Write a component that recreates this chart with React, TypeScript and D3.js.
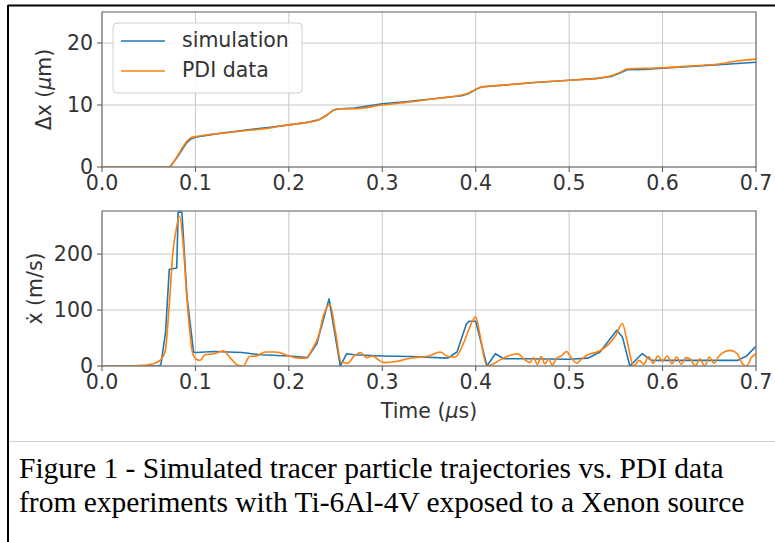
import React from "react";
import * as d3 from "d3";

const xTicks = [0, 0.1, 0.2, 0.3, 0.4, 0.5, 0.6, 0.7];
const dispTicks = [0, 10, 20];
const velTicks = [0, 100, 200];
const seriesNames = ["simulation", "PDI data"];
const seriesColors = ["#1f77b4", "#ff7f0e"];

const simDisplacement: [number, number][] = [
  [0, 0], [0.07, 0], [0.073, 0.1], [0.08, 1.5], [0.09, 3.8], [0.095, 4.5], [0.1, 4.8],
  [0.12, 5.3], [0.15, 5.9], [0.18, 6.4], [0.2, 6.8], [0.22, 7.2], [0.232, 7.6], [0.24, 8.3],
  [0.248, 9.2], [0.255, 9.4], [0.27, 9.5], [0.3, 10.2], [0.33, 10.6], [0.36, 11.1],
  [0.385, 11.5], [0.392, 11.8], [0.4, 12.5], [0.406, 12.9], [0.43, 13.2], [0.46, 13.6],
  [0.5, 14.0], [0.53, 14.3], [0.545, 14.6], [0.555, 15.2], [0.562, 15.7], [0.58, 15.75],
  [0.6, 15.95], [0.63, 16.2], [0.66, 16.5], [0.7, 16.9],
];

const pdiDisplacement: [number, number][] = [
  [0, 0], [0.07, 0], [0.073, 0.1], [0.08, 1.6], [0.09, 4.0], [0.095, 4.7], [0.1, 4.9],
  [0.12, 5.3], [0.15, 5.8], [0.18, 6.3], [0.2, 6.8], [0.22, 7.2], [0.232, 7.6], [0.24, 8.3],
  [0.248, 9.2], [0.255, 9.4], [0.27, 9.4], [0.3, 10.0], [0.33, 10.5], [0.36, 11.1],
  [0.385, 11.6], [0.392, 11.9], [0.4, 12.5], [0.406, 12.9], [0.43, 13.2], [0.46, 13.6],
  [0.5, 14.0], [0.53, 14.3], [0.545, 14.7], [0.555, 15.3], [0.562, 15.8], [0.58, 15.9],
  [0.6, 16.0], [0.63, 16.3], [0.66, 16.6], [0.68, 17.1], [0.7, 17.4],
];

const simVelocity: [number, number][] = [
  [0, 0], [0.06, 0], [0.063, 2], [0.068, 60], [0.072, 173], [0.08, 175], [0.0815, 275],
  [0.0855, 275], [0.091, 123], [0.098, 25], [0.1, 24], [0.12, 26], [0.15, 24], [0.17, 20],
  [0.2, 18], [0.22, 15], [0.23, 40], [0.243, 120], [0.255, 0], [0.262, 22], [0.27, 20],
  [0.3, 18], [0.33, 17], [0.37, 14], [0.38, 25], [0.39, 75], [0.393, 80], [0.4, 80],
  [0.412, 0], [0.421, 22], [0.43, 13], [0.45, 13], [0.5, 12], [0.52, 14], [0.533, 25],
  [0.551, 64], [0.557, 52], [0.565, 0], [0.578, 22], [0.588, 10], [0.6, 10], [0.65, 10],
  [0.68, 10], [0.69, 18], [0.7, 35],
];

const pdiVelocity: [number, number][] = [
  [0, 0], [0.04, 1], [0.055, 4], [0.062, 10], [0.0675, 25], [0.072, 110], [0.076, 205],
  [0.079, 240], [0.083, 268], [0.087, 215], [0.091, 118], [0.097, 23], [0.101, 12],
  [0.105, 10], [0.11, 20], [0.12, 22], [0.13, 27], [0.137, 15], [0.145, 2], [0.151, 0],
  [0.158, 17], [0.165, 18], [0.175, 25], [0.185, 25], [0.19, 24], [0.2, 18], [0.21, 14],
  [0.218, 14], [0.225, 30], [0.232, 55], [0.237, 90], [0.244, 110], [0.25, 60], [0.256, 7],
  [0.263, 5], [0.27, 18], [0.277, 24], [0.283, 15], [0.29, 18], [0.295, 12], [0.302, 6],
  [0.315, 8], [0.33, 14], [0.35, 18], [0.362, 25], [0.37, 17], [0.378, 16], [0.388, 45],
  [0.395, 75], [0.4, 88], [0.404, 60], [0.412, 0], [0.418, 3], [0.425, 10], [0.435, 18],
  [0.445, 22], [0.452, 12], [0.458, 6], [0.462, 15], [0.466, 3], [0.47, 17], [0.474, 4],
  [0.478, 12], [0.482, 2], [0.487, 15], [0.492, 18], [0.497, 26], [0.503, 13], [0.508, 5],
  [0.513, 12], [0.52, 20], [0.53, 25], [0.54, 35], [0.55, 55], [0.557, 76], [0.562, 45],
  [0.569, 0], [0.575, 10], [0.58, 3], [0.585, 17], [0.59, 5], [0.595, 18], [0.6, 8],
  [0.605, 18], [0.61, 4], [0.615, 16], [0.62, 3], [0.625, 15], [0.63, 12], [0.635, 0],
  [0.64, 13], [0.645, 0], [0.65, 16], [0.655, 5], [0.66, 17], [0.667, 26], [0.673, 28],
  [0.68, 22], [0.685, 5], [0.69, 0], [0.695, 15], [0.7, 22],
];

const W = 775;
const H = 542;
const LEFT = 102;
const RIGHT = 756;

const fmtX = d3.format(".1f");

type PanelProps = {
  top: number;
  bottom: number;
  yMax: number;
  yTicks: number[];
  series: [number, number][][];
  yLabel: React.ReactNode;
  yLabelX: number;
  legend?: boolean;
  clipId: string;
};

const tickFont = { fontFamily: "DejaVu Sans", fontSize: 20.5, fill: "#333" };

function Panel({ top, bottom, yMax, yTicks, series, yLabel, yLabelX, legend, clipId }: PanelProps) {
  const x = d3.scaleLinear().domain([0, 0.7]).range([LEFT, RIGHT]);
  const y = d3.scaleLinear().domain([0, yMax]).range([bottom, top]);
  const lines = [
    d3.line<[number, number]>().x((d) => x(d[0])).y((d) => y(d[1])),
    d3.line<[number, number]>().x((d) => x(d[0])).y((d) => y(d[1])).curve(d3.curveMonotoneX),
  ];
  return (
    <g>
      <defs>
        <clipPath id={clipId}>
          <rect x={LEFT} y={top} width={RIGHT - LEFT} height={bottom - top} />
        </clipPath>
      </defs>
      {xTicks.map((t) => (
        <line key={"gx" + t} x1={x(t)} x2={x(t)} y1={top} y2={bottom} stroke="#c8c8c8" strokeWidth={1} />
      ))}
      {yTicks.map((t) => (
        <line key={"gy" + t} x1={LEFT} x2={RIGHT} y1={y(t)} y2={y(t)} stroke="#c8c8c8" strokeWidth={1} />
      ))}
      <g clipPath={`url(#${clipId})`}>
        {series.map((s, i) => (
          <path key={i} d={lines[i](s) || ""} fill="none" stroke={seriesColors[i]} strokeWidth={1.6} strokeLinejoin="round" />
        ))}
      </g>
      <rect x={LEFT} y={top} width={RIGHT - LEFT} height={bottom - top} fill="none" stroke="#777" strokeWidth={1.2} />
      {xTicks.map((t) => (
        <g key={"tx" + t}>
          <line x1={x(t)} x2={x(t)} y1={bottom} y2={bottom + 5} stroke="#555" strokeWidth={1} />
          <text x={x(t)} y={bottom + 17} textAnchor="middle" dominantBaseline="middle" {...tickFont}>
            {fmtX(t)}
          </text>
        </g>
      ))}
      {yTicks.map((t) => (
        <g key={"ty" + t}>
          <line x1={LEFT - 5} x2={LEFT} y1={y(t)} y2={y(t)} stroke="#555" strokeWidth={1} />
          <text x={LEFT - 9} y={y(t) + 1} textAnchor="end" dominantBaseline="middle" {...tickFont}>
            {t}
          </text>
        </g>
      ))}
      <text
        transform={`translate(${yLabelX},${(top + bottom) / 2}) rotate(-90)`}
        textAnchor="middle"
        dominantBaseline="middle"
        {...tickFont}
      >
        {yLabel}
      </text>
      {legend && (
        <g>
          <rect x={113} y={23} width={189} height={70} rx={4} fill="white" fillOpacity={0.85} stroke="#d0d0d0" strokeWidth={1} />
          {seriesNames.map((n, i) => (
            <g key={n}>
              <line x1={121} x2={165} y1={41 + i * 30} y2={41 + i * 30} stroke={seriesColors[i]} strokeWidth={1.6} />
              <text x={182} y={41 + i * 30} dominantBaseline="middle" {...tickFont}>
                {n}
              </text>
            </g>
          ))}
        </g>
      )}
    </g>
  );
}

export default function App() {
  return (
    <svg
      width={W}
      height={H}
      viewBox={`0 0 ${W} ${H}`}
      style={{ position: "absolute", left: 0, top: 0, background: "white" }}
    >
      <rect x={0} y={0} width={W} height={H} fill="white" />
      <line x1={8} x2={775} y1={5.5} y2={5.5} stroke="#000" strokeWidth={2} />
      <line x1={8} x2={8} y1={5} y2={542} stroke="#000" strokeWidth={2} />
      <Panel
        top={12}
        bottom={167}
        yMax={25}
        yTicks={dispTicks}
        series={[simDisplacement, pdiDisplacement]}
        yLabel={
          <>
            Δx (<tspan fontStyle="italic">μ</tspan>m)
          </>
        }
        yLabelX={45}
        legend
        clipId="clipTop"
      />
      <Panel
        top={211}
        bottom={366}
        yMax={277}
        yTicks={velTicks}
        series={[simVelocity, pdiVelocity]}
        yLabel={"ẋ (m/s)"}
        yLabelX={36}
        clipId="clipBottom"
      />
      <text x={429} y={412} textAnchor="middle" dominantBaseline="middle" {...tickFont}>
        Time (<tspan fontStyle="italic">μ</tspan>s)
      </text>
      <line x1={9} x2={775} y1={441.5} y2={441.5} stroke="#d0d0d0" strokeWidth={1} />
      <text x={19} y={478} fontFamily="Liberation Serif" fontSize={29.5} fill="#000">
        Figure 1 - Simulated tracer particle trajectories vs. PDI data
      </text>
      <text x={19} y={512} fontFamily="Liberation Serif" fontSize={29.5} fill="#000">
        from experiments with Ti-6Al-4V exposed to a Xenon source
      </text>
    </svg>
  );
}
